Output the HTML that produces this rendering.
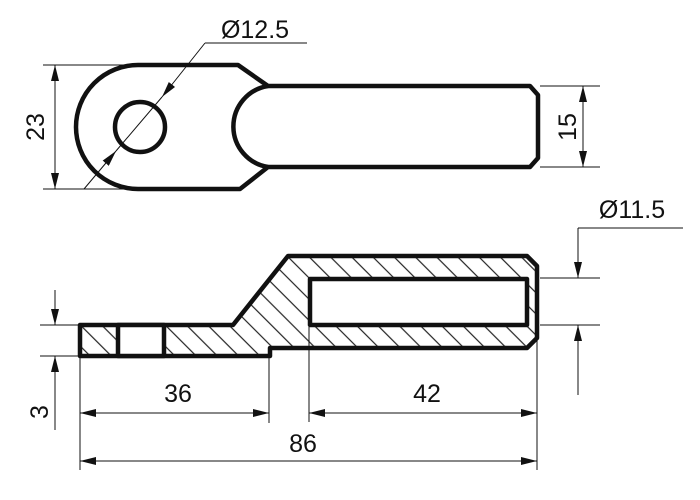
<!DOCTYPE html>
<html><head><meta charset="utf-8"><style>html,body{margin:0;padding:0;background:#fff}svg{display:block}text{font-family:"Liberation Sans",sans-serif;font-size:25px;fill:#111}</style></head>
<body>
<svg width="700" height="500" viewBox="0 0 700 500" xmlns="http://www.w3.org/2000/svg">
<defs>
<marker id="a" viewBox="0 0 16 8" refX="16" refY="4" markerWidth="16" markerHeight="8" markerUnits="userSpaceOnUse" orient="auto-start-reverse"><path d="M0,0 L16,4 L0,8 Z" fill="#111"/></marker>
<pattern id="h2" patternUnits="userSpaceOnUse" width="15" height="15" patternTransform="rotate(-45)"><line x1="7" y1="0" x2="7" y2="15" stroke="#222" stroke-width="1.2"/></pattern>
</defs>
<g fill="none" stroke="#111" stroke-width="4.5" stroke-linejoin="round">
<path d="M138,65 L238,65 L268,86 L530,86 L538,95 L538,158 L530,167 L268,167 L240,189 L138,189 A62,62 0 0 1 138,65 Z"/>
<path d="M268,86 A41,41 0 0 0 268,167"/>
<circle cx="140" cy="127" r="25"/>
<path d="M80,325 L233,325 L288,256 L527,256 L537,266 L537,338 L527,348 L270,348 L270,356 L80,356 Z" fill="url(#h2)"/>
<rect x="310" y="279" width="217" height="46" fill="#fff"/>
<rect x="118" y="325" width="46" height="31" fill="#fff"/>
</g>
<g stroke="#111" stroke-width="1" fill="none">
<line x1="43" y1="65" x2="135" y2="65"/><line x1="43" y1="189" x2="135" y2="189"/>
<line x1="55" y1="65" x2="55" y2="189" marker-start="url(#a)" marker-end="url(#a)"/>
<line x1="84" y1="189" x2="116" y2="151" marker-end="url(#a)"/>
<line x1="205" y1="43" x2="162" y2="97" marker-end="url(#a)"/>
<line x1="162" y1="97" x2="116" y2="151"/>
<line x1="205" y1="43" x2="307" y2="43"/>
<line x1="540" y1="86" x2="600" y2="86"/><line x1="540" y1="167" x2="600" y2="167"/>
<line x1="583" y1="86" x2="583" y2="167" marker-start="url(#a)" marker-end="url(#a)"/>
<line x1="540" y1="278" x2="600" y2="278"/><line x1="540" y1="325" x2="600" y2="325"/>
<line x1="578" y1="228" x2="578" y2="278" marker-end="url(#a)"/>
<line x1="578" y1="395" x2="578" y2="325" marker-end="url(#a)"/>
<line x1="578" y1="228" x2="683" y2="228"/>
<line x1="40" y1="325" x2="80" y2="325"/><line x1="40" y1="356" x2="80" y2="356"/>
<line x1="55" y1="290" x2="55" y2="325" marker-end="url(#a)"/>
<line x1="55" y1="430" x2="55" y2="356" marker-end="url(#a)"/>
<line x1="80" y1="358" x2="80" y2="470"/>
<line x1="269" y1="358" x2="269" y2="423"/>
<line x1="309" y1="327" x2="309" y2="422"/>
<line x1="537" y1="340" x2="537" y2="470"/>
<line x1="80" y1="413" x2="269" y2="413" marker-start="url(#a)" marker-end="url(#a)"/>
<line x1="309" y1="413" x2="537" y2="413" marker-start="url(#a)" marker-end="url(#a)"/>
<line x1="80" y1="461" x2="537" y2="461" marker-start="url(#a)" marker-end="url(#a)"/>
</g>
<text x="255" y="38" text-anchor="middle">Ø12.5</text>
<text x="632" y="218" text-anchor="middle">Ø11.5</text>
<text transform="translate(44,127) rotate(-90)" text-anchor="middle">23</text>
<text transform="translate(576,127) rotate(-90)" text-anchor="middle">15</text>
<text transform="translate(48,412) rotate(-90)" text-anchor="middle">3</text>
<text x="178" y="402" text-anchor="middle">36</text>
<text x="427" y="402" text-anchor="middle">42</text>
<text x="303" y="452" text-anchor="middle">86</text>
</svg>
</body></html>
